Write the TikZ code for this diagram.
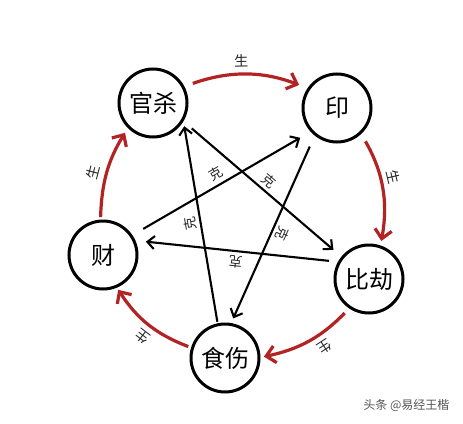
\documentclass[tikz,border=0pt]{standalone}
\usepackage{fontspec}
\newfontfamily\cjk{Noto Sans CJK SC}
\usetikzlibrary{arrows.meta}
\definecolor{shengred}{RGB}{178,36,36}
\definecolor{wmgray}{RGB}{85,85,85}
\begin{document}
\begin{tikzpicture}[x=1pt,y=-1pt,
  phase/.style={circle,draw=black,line width=3pt,minimum size=68pt,inner sep=0pt,font=\cjk\fontsize{24}{24}\selectfont},
  sheng/.style={draw=shengred,line width=3.2pt,-{Straight Barb[length=9pt,width=17pt]}},
  ke/.style={draw=black,line width=2.1pt,-{Straight Barb[length=7pt,width=13pt]}},
  shenglab/.style={font=\cjk\fontsize{14}{14}\selectfont,text=black!85,sloped,allow upside down,above=4pt,inner sep=2pt},
  kelab/.style={font=\cjk\fontsize{13.5}{13.5}\selectfont,text=black!85,sloped,allow upside down,above=1.5pt,inner sep=2pt}]
\useasboundingbox[fill=white] (0,0) rectangle (463,423);
\node[phase] (gs) at (153,103) {官杀};
\node[phase] (yin) at (337,108) {印};
\node[phase] (bj) at (369,279) {比劫};
\node[phase] (ss) at (225,358) {食伤};
\node[phase] (cai) at (103,255) {财};
% sheng cycle
\draw[sheng,shorten <=9pt,shorten >=9pt] (gs.28) to[bend left=20] node[shenglab,pos=0.46]{生} (yin.146);
\draw[sheng,shorten <=8.5pt,shorten >=4.5pt] (yin.-47) to[bend left=20] node[shenglab,pos=0.43]{生} (bj.71);
\draw[sheng,shorten <=6.5pt,shorten >=3.5pt] (bj.-124) to[bend left=17] node[shenglab,pos=0.4]{生} (ss.1.5);
\draw[sheng,shorten <=3pt,shorten >=2.5pt] (ss.163) to[bend left=18] node[shenglab,pos=0.47]{生} (cai.-67);
\draw[sheng,shorten <=2.5pt,shorten >=5.5pt] (cai.94.5) to[bend left=15] node[shenglab,pos=0.45]{生} (gs.225);
% ke star
\draw[ke,shorten <=11pt,shorten >=10.5pt] (gs.-31) -- node[kelab]{克} (bj.141);
\draw[ke,shorten <=9pt,shorten >=10.5pt] (bj.151.7) -- node[kelab]{克} (cai.24.3);
\draw[ke,shorten <=12.5pt,shorten >=12pt] (cai.34) -- node[kelab]{克} (yin.222.4);
\draw[ke,shorten <=12pt,shorten >=5pt] (yin.231) -- node[kelab]{克} (ss.80);
\draw[ke,shorten <=1.5pt,shorten >=5pt] (ss.102.5) -- node[kelab]{克} (gs.-31);
\node[font=\cjk\fontsize{12}{12}\selectfont,text=wmgray,anchor=east] (wm) at (453,405) {头条 @易经王楷};
\end{tikzpicture}
\end{document}
